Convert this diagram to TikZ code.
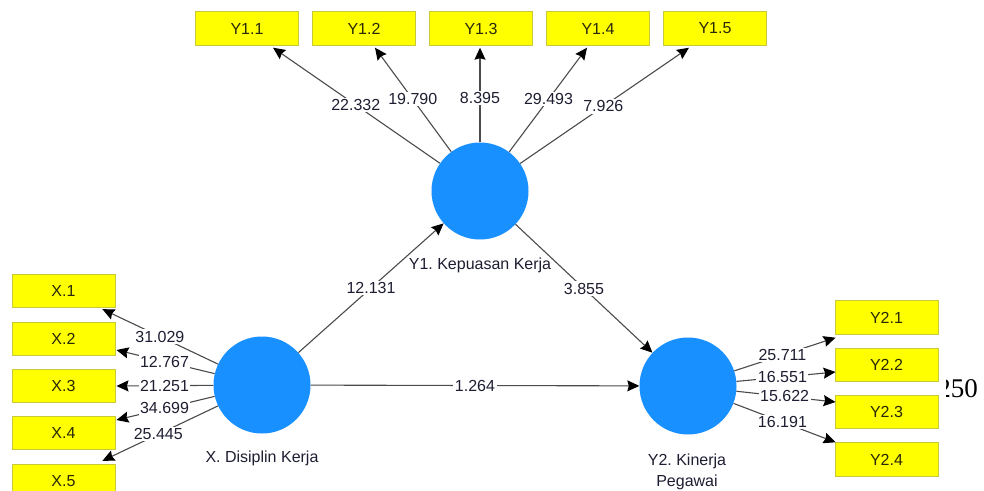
\documentclass[tikz,border=0pt]{standalone}
\usepackage{fontspec}
\setmainfont{Liberation Sans}
\newfontfamily\serifnum{Liberation Serif}
\usetikzlibrary{arrows.meta,calc}
\frenchspacing
\definecolor{lvblue}{RGB}{24,144,255}
\definecolor{boxfill}{RGB}{255,255,0}
\definecolor{boxline}{RGB}{200,200,60}
\definecolor{boxtext}{RGB}{40,40,10}
\definecolor{labtext}{RGB}{30,30,50}
\definecolor{linegray}{RGB}{75,75,75}
\tikzset{
  lv/.style={circle, fill=lvblue, minimum size=97pt, inner sep=0pt},
  ind/.style={rectangle, fill=boxfill, draw=boxline, line width=0.9pt, minimum width=103pt, minimum height=33.5pt, inner sep=0pt, text=boxtext, font=\fontsize{16}{18}\selectfont},
  arr/.style={draw=linegray, line width=1.1pt, -{Stealth[length=12pt,width=11pt,inset=1.5pt,color=black]}},
  lab/.style={fill=white, inner sep=1.5pt, text=labtext, font=\fontsize{16}{18}\selectfont},
  lvlab/.style={text=labtext, font=\fontsize{16}{21}\selectfont\frenchspacing, align=center, inner sep=0pt}
}
\begin{document}
\begin{tikzpicture}[x=1pt,y=-1pt]
\useasboundingbox (0,0) rectangle (984,490);
\clip (0,0) rectangle (984,490);
\fill[white] (0,0) rectangle (984,490);

% latent variables
\node[lv] (Y1) at (480,191) {};
\node[lv] (X) at (262,385) {};
\node[lv] (Y2) at (688,386) {};

% latent labels
\node[lvlab] (Y1l) at (480,265) {Y1. Kepuasan Kerja};
\node[lvlab] (Xl) at (262,458) {X. Disiplin Kerja};
\node[lvlab] (Y2l) at (687,471.5) {Y2. Kinerja\\Pegawai};

% top indicators
\node[ind] (Y11) at (247,28.5) {Y1.1};
\node[ind] (Y12) at (364,28.5) {Y1.2};
\node[ind] (Y13) at (481,28.5) {Y1.3};
\node[ind] (Y14) at (598,28.5) {Y1.4};
\node[ind] (Y15) at (715,28.5) {Y1.5};

% left indicators
\node[ind] (X1) at (63.5,291) {X.1};
\node[ind] (X2) at (63.5,339) {X.2};
\node[ind] (X3) at (63.5,386) {X.3};
\node[ind] (X4) at (63.5,433) {X.4};
\node[ind] (X5) at (63.5,481) {X.5};

% right indicators
\node[ind] (Y21) at (886.5,317.5) {Y2.1};
\node[ind] (Y22) at (886.5,365) {Y2.2};
\node[ind] (Y23) at (886.5,412) {Y2.3};
\node[ind] (Y24) at (886.5,459.5) {Y2.4};

% arrow tip coordinates
\coordinate (t11) at ($(Y11.south)+(26,2)$);
\coordinate (t12) at ($(Y12.south)+(11,2)$);
\coordinate (t13) at ($(Y13.south)+(-1,2)$);
\coordinate (t14) at ($(Y14.south)+(-11,2)$);
\coordinate (t15) at ($(Y15.south)+(-26,2)$);

\coordinate (tx1) at ($(X1.south east)+(-13,1)$);
\coordinate (tx2) at ($(X2.east)+(1,11)$);
\coordinate (tx3) at ($(X3.east)+(1,0)$);
\coordinate (tx4) at ($(X4.east)+(1,-13)$);
\coordinate (tx5) at ($(X5.north east)+(-13,-3)$);

\coordinate (ty1) at ($(Y21.south west)+(1,3)$);
\coordinate (ty2) at ($(Y22.west)+(1,7)$);
\coordinate (ty3) at ($(Y23.west)+(1,-10)$);
\coordinate (ty4) at ($(Y24.north west)+(1,0)$);

% outer model arrows
\foreach \t in {t11,t12,t13,t14,t15} \draw[arr] (Y1) -- (\t);
\foreach \t in {tx1,tx2,tx3,tx4,tx5} \draw[arr] (X) -- (\t);
\foreach \t in {ty1,ty2,ty3,ty4} \draw[arr] (Y2) -- (\t);

% outer labels
\node[lab] (l11) at ($(Y1.center)!0.60!(t11)$) {22.332};
\node[lab] (l12) at ($(Y1.center)!0.64!(t12)$) {19.790};
\node[lab] (l13) at ($(Y1.center)!0.65!(t13)$) {8.395};
\node[lab] (l14) at ($(Y1.center)!0.64!(t14)$) {29.493};
\node[lab] (l15) at ($(Y1.center)!0.59!(t15)$) {7.926};

\node[lab] (lx1) at ($(X.center)!0.64!(tx1)$) {31.029};
\node[lab] (lx2) at ($(X.center)!0.67!(tx2)$) {12.767};
\node[lab] (lx3) at ($(X.center)!0.67!(tx3)$) {21.251};
\node[lab] (lx4) at ($(X.center)!0.67!(tx4)$) {34.699};
\node[lab] (lx5) at ($(X.center)!0.65!(tx5)$) {25.445};

\node[lab] (ly1) at ($(Y2.center)!0.64!(ty1)$) {25.711};
\node[lab] (ly2) at ($(Y2.center)!0.64!(ty2)$) {16.551};
\node[lab] (ly3) at ($(Y2.center)!0.655!(ty3)$) {15.622};
\node[lab] (ly4) at ($(Y2.center)!0.64!(ty4)$) {16.191};

% inner model
\draw[arr] (X) -- node[lab] (lxy1) {12.131} (Y1);
\draw[arr] (Y1) -- node[lab] (ly1y2) {3.855} (Y2);
\draw[arr] (X) -- node[lab] (lxy2) {1.264} (Y2);

% stray text fragment at right
\begin{scope}
\clip (946,360) rectangle (984,410);
\node[anchor=base east, inner sep=0pt, font=\serifnum\fontsize{27}{30}\selectfont, text=black] (frag) at (978,397) {250};
\end{scope}
\end{tikzpicture}
\end{document}
